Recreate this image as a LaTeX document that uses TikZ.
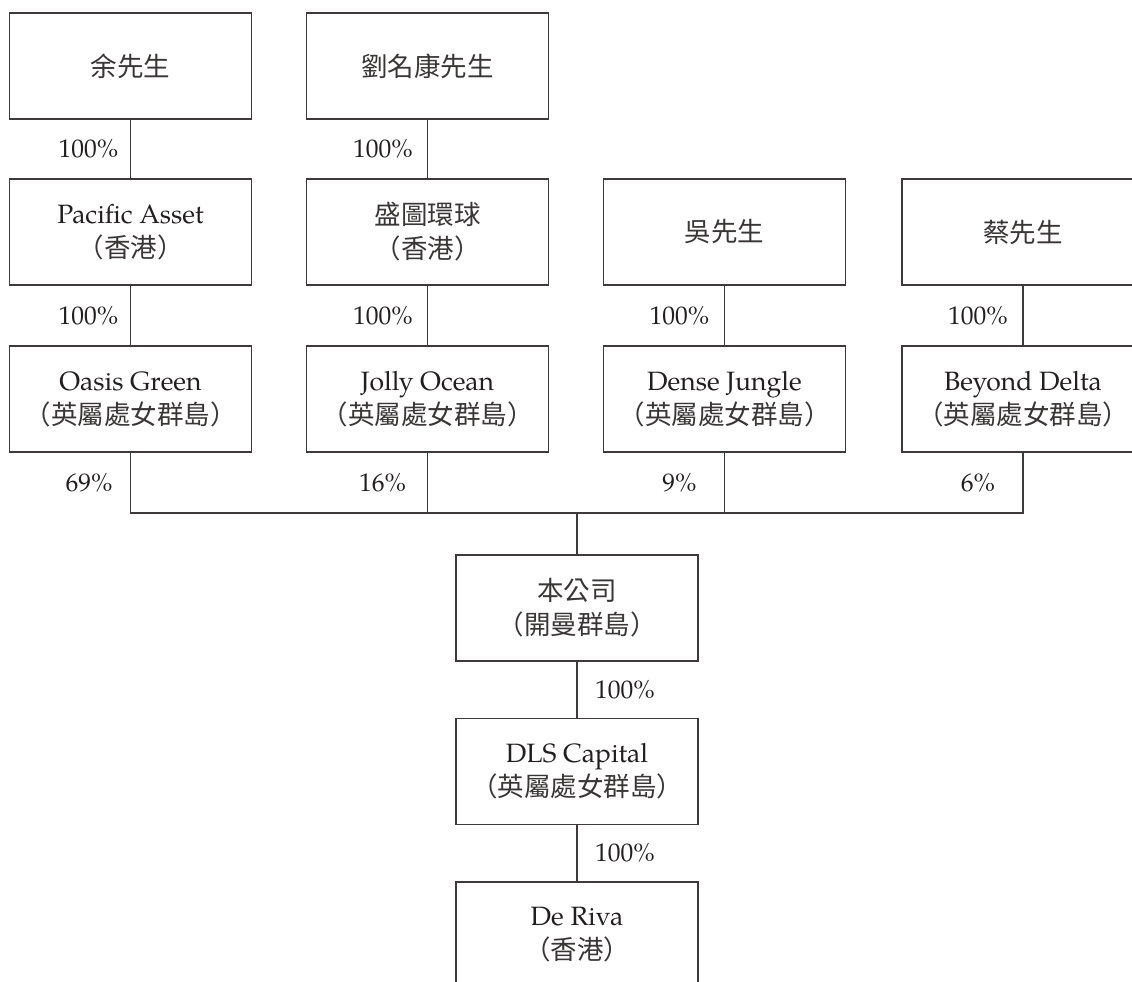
\documentclass[tikz,border=0pt]{standalone}
\usepackage{fontspec}
\setmainfont{TeX Gyre Pagella}
\newfontfamily\cjkfam{Noto Sans CJK TC}
\definecolor{ln}{RGB}{62,58,58}
\definecolor{tx}{RGB}{35,31,32}
\definecolor{cjtx}{RGB}{58,54,54}
\newcommand\cj[1]{{\cjkfam\fontsize{26.5}{34}\selectfont\color{cjtx}#1}}
\begin{document}
\begin{tikzpicture}[x=1pt,y=-1pt,
  box/.style={draw=ln, line width=1.3pt, minimum width=242pt, minimum height=106pt,
    inner sep=0pt, align=center, text=tx, font=\fontsize{26.5}{34}\selectfont},
  pct/.style={text=tx, font=\fontsize{25.5}{30}\selectfont, inner sep=0pt},
  link/.style={draw=ln, line width=1.3pt}]
\path[use as bounding box, clip] (0,0) rectangle (1132,982);
\fill[white] (0,0) rectangle (1132,982);
% row 1
\node[box] (yu)  at (130.5,66) {\cj{余先生}};
\node[box] (liu) at (427.5,66) {\cj{劉名康先生}};
% row 2
\node[box] (pa)  at (130.5,232) {Pacific Asset\\\cj{（香港）}};
\node[box] (sh)  at (427.5,232) {\cj{盛圖環球}\\\cj{（香港）}};
\node[box] (wu)  at (724.5,232) {\cj{吳先生}};
\node[box] (cai) at (1023,232) {\cj{蔡先生}};
% row 3
\node[box] (og) at (130.5,399) {Oasis Green\\\cj{（英屬處女群島）}};
\node[box] (jo) at (427.5,399) {Jolly Ocean\\\cj{（英屬處女群島）}};
\node[box] (dj) at (724.5,399) {Dense Jungle\\\cj{（英屬處女群島）}};
\node[box] (bd) at (1023,399) {Beyond Delta\\\cj{（英屬處女群島）}};
% lower chain
\node[box] (co)  at (577,608) {\cj{本公司}\\\cj{（開曼群島）}};
\node[box] (dls) at (577,771.5) {DLS Capital\\\cj{（英屬處女群島）}};
\node[box] (dr)  at (577,935) {De Riva\\\cj{（香港）}};
% connectors
\draw[link] (yu) -- (pa);
\draw[link] (liu) -- (sh);
\draw[link] (pa) -- (og);
\draw[link] (sh) -- (jo);
\draw[link] (wu) -- (dj);
\draw[link] (cai) -- (bd);
\coordinate (bar) at (577,513);
\draw[link] (og.south) -- (og.south |- bar) -- (bd.south |- bar) -- (bd.south);
\draw[link] (jo.south) -- (jo.south |- bar);
\draw[link] (dj.south) -- (dj.south |- bar);
\draw[link] (bar) -- (co.north);
\draw[link] (co) -- (dls);
\draw[link] (dls) -- (dr);
% percentages
\node[pct] (p1) at (88.5,149) {100\%};
\node[pct] (p2) at (383,149) {100\%};
\node[pct] (p3) at (88.5,315.5) {100\%};
\node[pct] (p4) at (383,315.5) {100\%};
\node[pct] (p5) at (679.5,315.5) {100\%};
\node[pct] (p6) at (978,315.5) {100\%};
\node[pct] (p7) at (89,482.5) {69\%};
\node[pct] (p8) at (382.5,482.5) {16\%};
\node[pct] (p9) at (679.5,482.5) {9\%};
\node[pct] (p10) at (978,482.5) {6\%};
\node[pct] (p11) at (625,690) {100\%};
\node[pct] (p12) at (625,853) {100\%};
\end{tikzpicture}
\end{document}
